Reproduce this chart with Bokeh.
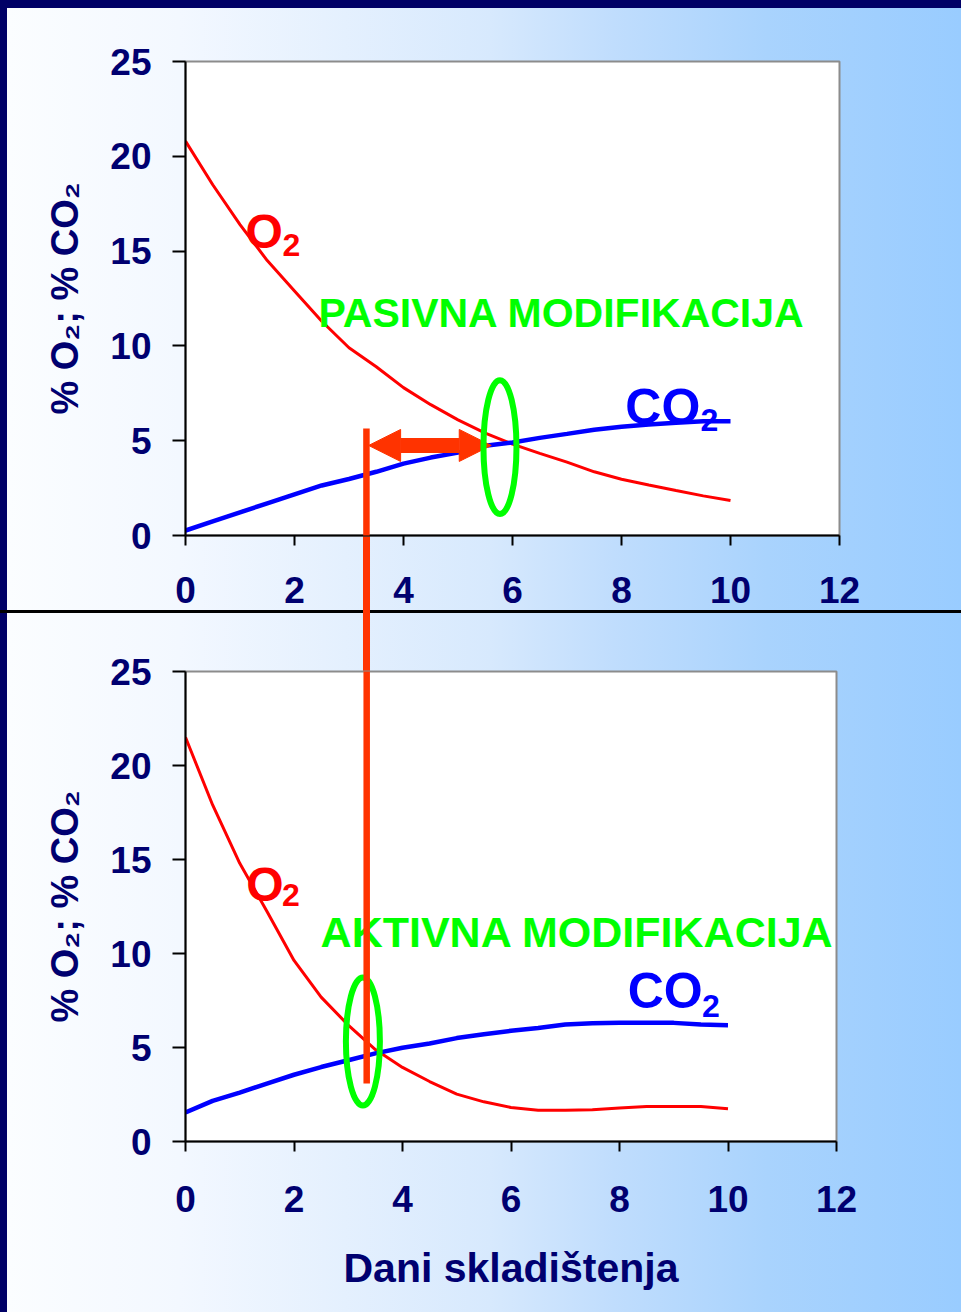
from bokeh.plotting import figure
from bokeh.layouts import column
from bokeh.models import Range1d, Label, Arrow, NormalHead, FixedTicker
from bokeh.embed import file_html
from bokeh.resources import INLINE

# ---------------- data ----------------
days = [0, 0.5, 1, 1.5, 2, 2.5, 3, 3.5, 4, 4.5, 5, 5.5, 6, 6.5, 7, 7.5, 8, 8.5, 9, 9.5, 10]
o2_pasivna = [20.8, 18.5, 16.4, 14.5, 12.9, 11.3, 9.9, 8.9, 7.8, 6.9, 6.1, 5.4, 4.82, 4.33, 3.87, 3.36, 2.97, 2.66, 2.37, 2.09, 1.85]
co2_pasivna = [0.26, 0.74, 1.22, 1.70, 2.17, 2.64, 2.98, 3.36, 3.79, 4.11, 4.37, 4.73, 4.91, 5.15, 5.36, 5.58, 5.74, 5.85, 5.95, 6.03, 6.03]
o2_aktivna = [21.5, 17.9, 14.8, 12.25, 9.63, 7.68, 6.19, 4.89, 3.94, 3.19, 2.52, 2.11, 1.81, 1.66, 1.66, 1.69, 1.78, 1.86, 1.86, 1.86, 1.74]
co2_aktivna = [1.54, 2.16, 2.60, 3.08, 3.55, 3.96, 4.32, 4.69, 4.99, 5.21, 5.50, 5.71, 5.89, 6.04, 6.22, 6.29, 6.31, 6.31, 6.31, 6.22, 6.19]
x_ticks = [0, 2, 4, 6, 8, 10, 12]
y_ticks = [0, 5, 10, 15, 20, 25]
title_top = "PASIVNA MODIFIKACIJA"
title_bottom = "AKTIVNA MODIFIKACIJA"
x_label = "Dani skladištenja"
y_label = "% O\u2082; % CO\u2082"

# ---------------- style ----------------
NAVY = "#000070"
FONT = "Liberation Sans"
RED = "#ff0000"
BLUE = "#0000ff"
GREEN = "#00ff00"
ORANGE = "#ff3300"


def make_fig(frame_w, frame_h, top, bottom, right):
    p = figure(frame_width=frame_w, frame_height=frame_h,
               x_range=Range1d(0, 12), y_range=Range1d(0, 25),
               output_backend="svg", toolbar_location=None,
               min_border_left=185, min_border_right=right,
               min_border_top=top, min_border_bottom=bottom,
               background_fill_color="white", border_fill_color=None,
               outline_line_color="#8c8c8c", outline_line_width=2)
    p.grid.visible = False
    p.xaxis.ticker = FixedTicker(ticks=x_ticks)
    p.yaxis.ticker = FixedTicker(ticks=y_ticks)
    for ax in (p.xaxis, p.yaxis):
        ax.axis_line_color = "black"
        ax.axis_line_width = 2
        ax.major_tick_line_color = "black"
        ax.major_tick_line_width = 2
        ax.major_tick_in = 0
        ax.minor_tick_line_color = None
        ax.major_label_text_font = FONT
        ax.major_label_text_font_style = "bold"
        ax.major_label_text_font_size = "37px"
        ax.major_label_text_color = NAVY
    p.xaxis.major_tick_out = 10
    p.yaxis.major_tick_out = 13
    p.xaxis.major_label_standoff = 31
    p.yaxis.major_label_standoff = 21
    p.yaxis.axis_label = y_label
    p.yaxis.axis_label_text_font = FONT
    p.yaxis.axis_label_text_font_style = "bold"
    p.yaxis.axis_label_text_font_size = "38px"
    p.yaxis.axis_label_text_color = NAVY
    p.yaxis.axis_label_standoff = 21
    return p


def lbl(p, x, y, text, color, size):
    p.add_layout(Label(x=x, y=y, text=text, text_color=color, text_font=FONT,
                       text_font_style="bold", text_font_size=size,
                       text_align="left", text_baseline="alphabetic"))


# ---------------- top: passive ----------------
p1 = make_fig(654, 474, 61, 85, 122)
p1.line(days, o2_pasivna, line_color=RED, line_width=3)
p1.line(days, co2_pasivna, line_color=BLUE, line_width=4.5)
lbl(p1, 1.10, 16.02, "O", RED, "48px")
lbl(p1, 1.78, 15.33, "2", RED, "32px")
lbl(p1, 8.07, 6.78, "CO", BLUE, "50px")
lbl(p1, 9.45, 6.10, "2", BLUE, "32px")
lbl(p1, 2.44, 11.72, title_top, GREEN, "41px")

# double arrow
p1.add_layout(Arrow(x_start=3.36, y_start=4.75, x_end=5.61, y_end=4.75,
                    start=NormalHead(size=32, fill_color=ORANGE, line_color=ORANGE, line_width=1),
                    end=NormalHead(size=32, fill_color=ORANGE, line_color=ORANGE, line_width=1),
                    line_color=ORANGE, line_width=15))
# vertical connector (top part, inside the frame)
p1.add_layout(Arrow(x_start=3.32, y_start=5.64, x_end=3.32, y_end=-2, start=None, end=None,
                    line_color=ORANGE, line_width=6.5))
e1 = p1.ellipse(x=[5.77], y=[4.66], width=33, height=134, width_units="screen", height_units="screen",
                fill_color=None, line_color=GREEN, line_width=6)
e1.level = "overlay"

# ---------------- bottom: active ----------------
p2 = make_fig(651, 470, 51, 171, 125)
p2.line(days, o2_aktivna, line_color=RED, line_width=3)
p2.line(days, co2_aktivna, line_color=BLUE, line_width=4.5)
lbl(p2, 1.12, 13.66, "O", RED, "48px")
lbl(p2, 1.78, 13.12, "2", RED, "32px")
lbl(p2, 8.15, 8.01, "CO", BLUE, "50px")
lbl(p2, 9.52, 7.21, "2", BLUE, "32px")
lbl(p2, 2.49, 11.13, title_bottom, GREEN, "43px")
p2.xaxis.major_label_standoff = 34
p2.xaxis.axis_label = x_label
p2.xaxis.axis_label_text_font = FONT
p2.xaxis.axis_label_text_font_style = "bold"
p2.xaxis.axis_label_text_font_size = "41px"
p2.xaxis.axis_label_text_color = NAVY
p2.xaxis.axis_label_standoff = 30
p2.ellipse(x=[3.27], y=[5.32], width=34, height=128, width_units="screen", height_units="screen",
           fill_color=None, line_color=GREEN, line_width=6)
# vertical connector (bottom part, inside the frame)
p2.add_layout(Arrow(x_start=3.34, y_start=27, x_end=3.34, y_end=3.08, start=None, end=None,
                    line_color=ORANGE, line_width=6.5))

# page backdrop: navy edge, light-blue gradient, divider rule and the connector between the frames
backdrop = ", ".join([
    "linear-gradient(#ff3300,#ff3300) 363px 533px / 7px 140px no-repeat",
    "linear-gradient(#000000,#000000) 0px 610px / 100% 3px no-repeat",
    "linear-gradient(#000066,#000066) 0px 0px / 100% 8px no-repeat",
    "linear-gradient(to right,#000066 0px,#000066 7px,#fbfdff 7px,#f3f8ff 180px,"
    "#d7e9fd 490px,#c0ddfd 613px,#a9d3fd 767px,#99ccff 100%)",
])
layout = column(p1, p2, spacing=0, styles={"background": backdrop})

html = file_html(layout, INLINE, title="O2 / CO2")
open("out.html", "w").write(html)
